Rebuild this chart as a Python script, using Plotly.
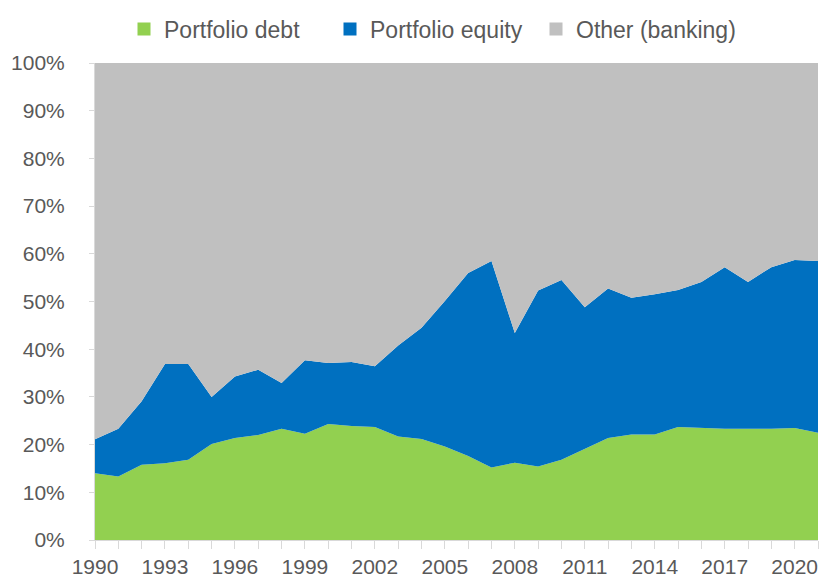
import plotly.graph_objects as go

years = list(range(1990, 2022))
# share of portfolio debt (%)
debt = [14.0, 13.3, 15.8, 16.1, 16.8, 20.1, 21.4, 22.0, 23.3, 22.3,
        24.3, 23.9, 23.7, 21.7, 21.2, 19.6, 17.6, 15.2, 16.2, 15.4,
        16.8, 19.1, 21.4, 22.1, 22.1, 23.7, 23.5, 23.3, 23.3, 23.3,
        23.5, 22.5]
# cumulative debt + equity (%)
debt_equity = [21.1, 23.3, 29.1, 36.9, 36.9, 30.0, 34.3, 35.7, 32.9, 37.7,
               37.1, 37.3, 36.4, 40.8, 44.5, 50.1, 56.0, 58.5, 43.4, 52.3,
               54.5, 48.8, 52.7, 50.8, 51.5, 52.4, 54.1, 57.2, 54.1, 57.2,
               58.7, 58.5]
equity = [round(t - d, 2) for t, d in zip(debt_equity, debt)]
other = [round(100 - t, 2) for t in debt_equity]

series = [
    ("Portfolio debt", debt, "#92D050"),
    ("Portfolio equity", equity, "#0070C0"),
    ("Other (banking)", other, "#C0C0C0"),
]

fig = go.Figure()
for name, vals, col in series:
    fig.add_trace(go.Scatter(
        x=years, y=vals, name=name, mode="lines",
        stackgroup="one", line=dict(width=0, color=col),
        fillcolor=col, showlegend=False,
    ))
# legend entries with square swatches
for name, vals, col in series:
    fig.add_trace(go.Scatter(
        x=[None], y=[None], name=name, mode="markers",
        marker=dict(symbol="square", size=13, color=col),
        showlegend=True,
    ))

font_col = "#595959"
FONT = "Liberation Sans, Arial, sans-serif"
W, H = 819, 583
fig.update_layout(
    width=W, height=H,
    margin=dict(l=95, r=1, t=63, b=43),
    paper_bgcolor="white", plot_bgcolor="white",
    font=dict(family=FONT, size=21, color=font_col),
    legend=dict(orientation="h", x=124 / W, xanchor="left", xref="container",
                y=1 - 29 / H, yanchor="middle", yref="container",
                traceorder="normal", font=dict(size=23, color=font_col, family=FONT),
                itemwidth=30, tracegroupgap=0, bgcolor="rgba(0,0,0,0)",
                entrywidth=161, entrywidthmode="pixels"),
    showlegend=True,
)
fig.update_xaxes(
    range=[1990, 2021], tickvals=list(range(1990, 2021, 3)),
    showgrid=False, zeroline=False, automargin=False,
    showline=True, linecolor="#D9D9D9", linewidth=1,
    ticks="outside", ticklen=8, tickcolor="#D9D9D9",
    minor=dict(ticks="outside", dtick=1, tick0=1990, ticklen=8, tickcolor="#D9D9D9"),
    tickfont=dict(size=21, color=font_col, family=FONT),
)
fig.update_yaxes(
    range=[0, 100], dtick=10, ticksuffix="%",
    showgrid=False, zeroline=False, automargin=False,
    showline=True, linecolor="#D9D9D9", linewidth=1,
    ticks="outside", ticklen=5, tickcolor="#D9D9D9",
    ticklabelstandoff=20,
    tickfont=dict(size=21, color=font_col, family=FONT),
)
fig.write_html("out.html",
               config={"displayModeBar": False},
               post_script="document.body.style.margin='0';document.body.style.overflow='hidden';")
